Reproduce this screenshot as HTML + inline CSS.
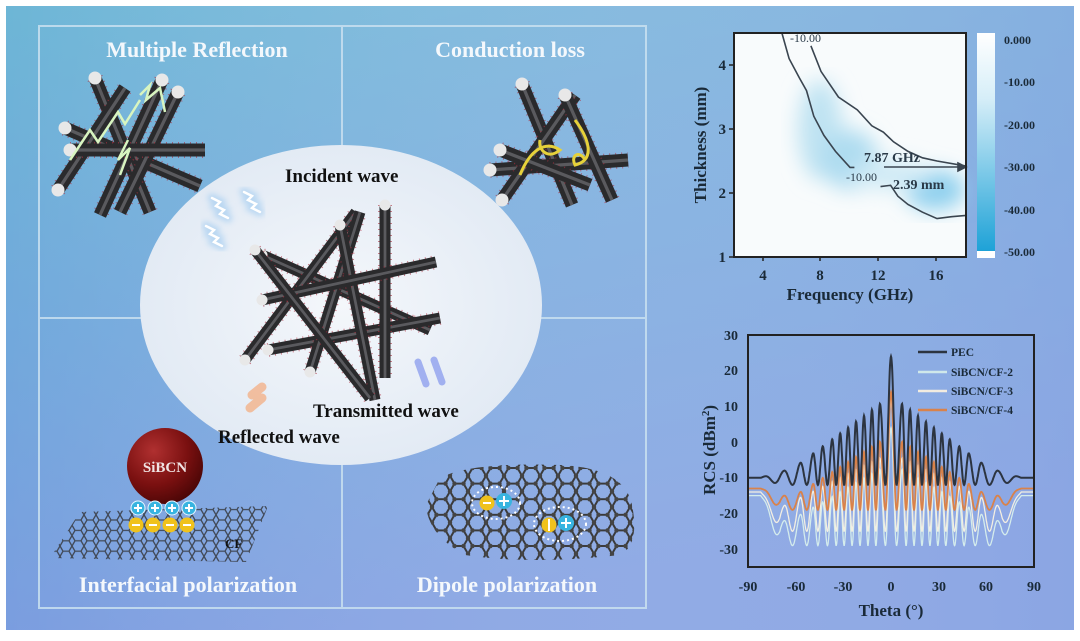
<!DOCTYPE html>
<html><head><meta charset="utf-8">
<style>
html,body{margin:0;padding:0;background:#fff;}
body{width:1080px;height:636px;overflow:hidden;}
svg text{font-family:"Liberation Serif",serif;font-weight:bold;}
</style></head>
<body>
<svg id="s" width="1080" height="636" viewBox="0 0 1080 636" xmlns="http://www.w3.org/2000/svg">
<defs>
<linearGradient id="bg" x1="0" y1="0" x2="0.3" y2="1">
<stop offset="0" stop-color="#6db6d6"/><stop offset="0.5" stop-color="#72a8dc"/><stop offset="1" stop-color="#7c9be0"/>
</linearGradient>
<linearGradient id="bg2" x1="0" y1="0" x2="1" y2="0">
<stop offset="0" stop-color="#fff" stop-opacity="0"/><stop offset="1" stop-color="#9ab0e6" stop-opacity="0.5"/>
</linearGradient>
<radialGradient id="ell" cx="0.5" cy="0.5" r="0.6">
<stop offset="0" stop-color="#f4f7fb"/><stop offset="1" stop-color="#dfe8f3"/>
</radialGradient>
<radialGradient id="sph" cx="0.35" cy="0.3" r="0.75">
<stop offset="0" stop-color="#b03030"/><stop offset="0.6" stop-color="#7a1010"/><stop offset="1" stop-color="#4a0606"/>
</radialGradient>
<linearGradient id="cb" x1="0" y1="0" x2="0" y2="1">
<stop offset="0" stop-color="#ffffff"/><stop offset="0.3" stop-color="#d6eef8"/><stop offset="1" stop-color="#1ea2d7"/>
</linearGradient>
<pattern id="hex" width="12" height="10.4" patternUnits="userSpaceOnUse">
<path d="M0 5.2 L3 0 L9 0 L12 5.2 L9 10.4 L3 10.4 Z" fill="none" stroke="#3a3f48" stroke-width="1.3"/>
</pattern>
<pattern id="hex2" width="18" height="15.6" patternUnits="userSpaceOnUse">
<path d="M0 7.8 L4.5 0 L13.5 0 L18 7.8 L13.5 15.6 L4.5 15.6 Z" fill="none" stroke="#3a3a3a" stroke-width="2"/>
<circle cx="4.5" cy="0" r="2.2" fill="#444"/><circle cx="13.5" cy="0" r="2.2" fill="#444"/><circle cx="0" cy="7.8" r="2.2" fill="#444"/><circle cx="18" cy="7.8" r="2.2" fill="#444"/><circle cx="4.5" cy="15.6" r="2.2" fill="#444"/><circle cx="13.5" cy="15.6" r="2.2" fill="#444"/>
</pattern>
<filter id="blur"><feGaussianBlur stdDeviation="10"/></filter>
<filter id="blur2"><feGaussianBlur stdDeviation="3"/></filter>
</defs>
<rect x="0" y="0" width="1080" height="636" fill="#fff"/>
<rect x="6" y="6" width="1068" height="624" fill="url(#bg)"/>
<rect x="6" y="6" width="1068" height="624" fill="url(#bg2)"/>

<g stroke="#c9e0f0" stroke-width="2" fill="none" opacity="0.85">
<rect x="39" y="26" width="607" height="582"/>
<line x1="342" y1="26" x2="342" y2="608"/>
<line x1="39" y1="318" x2="646" y2="318"/>
</g>

<g fill="#f4f8fc" font-size="22">
<text x="197" y="57" text-anchor="middle">Multiple Reflection</text>
<text x="510" y="57" text-anchor="middle">Conduction loss</text>
<text x="188" y="592" text-anchor="middle">Interfacial polarization</text>
<text x="507" y="592" text-anchor="middle">Dipole polarization</text>
</g>

<g id="fibers" stroke-linecap="butt"></g>

<ellipse cx="341" cy="305" rx="201" ry="160" fill="url(#ell)"/>
<g id="fibers2"></g>

<g fill="none" stroke-linecap="round">
<g stroke="#9cc9f0" stroke-width="9" opacity="0.6" filter="url(#blur2)">
<path d="M212 198 l8 4 l-4 4 l8 4 l-4 4 l8 4"/><path d="M244 192 l8 4 l-4 4 l8 4 l-4 4 l8 4"/><path d="M206 226 l8 4 l-4 4 l8 4 l-4 4 l8 4"/>
</g>
<g stroke="#fff" stroke-width="2.5">
<path d="M212 198 l8 4 l-4 4 l8 4 l-4 4 l8 4"/><path d="M244 192 l8 4 l-4 4 l8 4 l-4 4 l8 4"/><path d="M206 226 l8 4 l-4 4 l8 4 l-4 4 l8 4"/>
</g>
<g stroke="#f3b28a" stroke-width="9" opacity="0.8"><path d="M250 408 l12 -10 M252 395 l10 -8"/></g>
<g stroke="#8fa0ee" stroke-width="7" opacity="0.8"><path d="M418 362 l8 22 M434 360 l8 22"/></g>
</g>

<g fill="#111" font-size="19">
<text x="285" y="182">Incident wave</text>
<text x="313" y="417">Transmitted wave</text>
<text x="218" y="443">Reflected wave</text>
</g>

<g fill="none" stroke="#d8f5c0" stroke-width="2.5" stroke-linejoin="miter">
<path d="M70 160 L90 130 L98 142 L118 112 L125 124 L140 100"/>
<path d="M140 95 L150 85 L146 100 L160 88 L165 112"/>
<path d="M120 175 L130 148 L118 160 L128 140"/>
</g>
<g fill="none" stroke="#e6d13a" stroke-width="3">
<path d="M520 175 C530 150 545 140 560 150 C548 160 538 150 540 140"/>
<path d="M575 120 C590 140 595 160 575 165 C570 155 580 150 585 160"/>
</g>

<polygon points="80,512 268,506 246,562 50,558" fill="url(#hex)" opacity="0.9"/>
<circle cx="165" cy="466" r="38" fill="url(#sph)"/>
<text x="165" y="472" text-anchor="middle" fill="#f0e4e4" font-size="15">SiBCN</text>
<g fill="#38b4e0" stroke="#e8f6ff" stroke-width="1"><circle cx="138" cy="508" r="7"/><circle cx="155" cy="508" r="7"/><circle cx="172" cy="508" r="7"/><circle cx="189" cy="508" r="7"/></g>
<g stroke="#fff" stroke-width="2"><path d="M134 508h8M138 504v8M151 508h8M155 504v8M168 508h8M172 504v8M185 508h8M189 504v8"/></g>
<g fill="#f0c21c"><circle cx="136" cy="525" r="7.5"/><circle cx="153" cy="525" r="7.5"/><circle cx="170" cy="525" r="7.5"/><circle cx="187" cy="525" r="7.5"/></g>
<g stroke="#fff" stroke-width="2"><path d="M132 525h8M149 525h8M166 525h8M183 525h8"/></g>
<text x="225" y="548" fill="#111" font-size="13">CF</text>

<path d="M440 478 Q470 462 560 465 Q625 468 632 505 Q640 545 620 555 Q530 565 465 555 Q428 535 426 505 Z" fill="url(#hex2)"/>
<g fill="none" stroke="#fff" stroke-width="2" stroke-dasharray="2 3">
<ellipse cx="496" cy="503" rx="24" ry="16"/><ellipse cx="560" cy="524" rx="26" ry="17"/>
</g>
<circle cx="487" cy="503" r="7.5" fill="#f0c21c"/><circle cx="504" cy="501" r="8" fill="#38b4e0"/>
<circle cx="549" cy="525" r="7.5" fill="#f0c21c"/><circle cx="566" cy="523" r="8" fill="#38b4e0"/>
<g stroke="#fff" stroke-width="2"><path d="M483 503h8M499 501h10M504 496v10M561 523h10M566 518v10M549 519v12"/></g>

<g id="c1">
<rect x="734" y="33" width="232" height="224" fill="#f8fbfc"/>
<g filter="url(#blur)">
<ellipse cx="820" cy="130" rx="22" ry="50" fill="#bfe3f2"/>
<ellipse cx="850" cy="160" rx="28" ry="30" fill="#aedcf0"/>
<ellipse cx="935" cy="190" rx="30" ry="20" fill="#8fd0ee"/>
<ellipse cx="890" cy="175" rx="40" ry="15" fill="#cfeaf5"/>
</g>
<g fill="none" stroke="#3a4550" stroke-width="1.6">
<path id="ct1"/><path id="ct2"/><path id="ct3"/>
<line x1="884" y1="167" x2="960" y2="167"/>
<path d="M958 163 L966 167 L958 171 Z" fill="#3a4550"/>
</g>
<rect x="734" y="33" width="232" height="224" fill="none" stroke="#222" stroke-width="2"/>
<g fill="#2a3a48" font-size="12"><text x="790" y="42" style="font-weight:normal">-10.00</text><text x="846" y="181" style="font-weight:normal">-10.00</text></g>
<g fill="#2a3a48" font-size="14"><text x="864" y="162">7.87 GHz</text><text x="893" y="189">2.39 mm</text></g>
<rect x="977" y="33" width="18" height="218" fill="url(#cb)"/>
<rect x="977" y="251" width="18" height="7" fill="#fff"/>
<g fill="#1a2a38" font-size="12"><text x="1004" y="44">0.000</text><text x="1004" y="86">-10.00</text><text x="1004" y="129">-20.00</text><text x="1004" y="171">-30.00</text><text x="1004" y="214">-40.00</text><text x="1004" y="256">-50.00</text></g>
<g fill="#1a2a38" font-size="15"><text x="726" y="70" text-anchor="end">4</text><text x="726" y="134" text-anchor="end">3</text><text x="726" y="198" text-anchor="end">2</text><text x="726" y="262" text-anchor="end">1</text>
<text x="763" y="280" text-anchor="middle">4</text><text x="820" y="280" text-anchor="middle">8</text><text x="878" y="280" text-anchor="middle">12</text><text x="936" y="280" text-anchor="middle">16</text></g>
<text x="850" y="300" text-anchor="middle" fill="#1a2a38" font-size="17">Frequency (GHz)</text>
<text transform="translate(706 145) rotate(-90)" text-anchor="middle" fill="#1a2a38" font-size="17">Thickness (mm)</text>
<g stroke="#222" stroke-width="1.5"><path d="M734 65h-5M734 129h-5M734 193h-5M734 257h-5M763 257v4M820 257v4M878 257v4M936 257v4"/></g>
</g>

<g id="c2">
<g id="curves" fill="none" stroke-width="1.6"></g>
<rect x="748" y="335" width="286" height="232" fill="none" stroke="#222" stroke-width="2"/>
<g fill="#1a2a38" font-size="14"><text x="738" y="340" text-anchor="end">30</text><text x="738" y="375" text-anchor="end">20</text><text x="738" y="411" text-anchor="end">10</text><text x="738" y="447" text-anchor="end">0</text><text x="738" y="482" text-anchor="end">-10</text><text x="738" y="518" text-anchor="end">-20</text><text x="738" y="554" text-anchor="end">-30</text>
<text x="748" y="591" text-anchor="middle">-90</text><text x="796" y="591" text-anchor="middle">-60</text><text x="843" y="591" text-anchor="middle">-30</text><text x="891" y="591" text-anchor="middle">0</text><text x="939" y="591" text-anchor="middle">30</text><text x="986" y="591" text-anchor="middle">60</text><text x="1034" y="591" text-anchor="middle">90</text></g>
<text x="891" y="616" text-anchor="middle" fill="#1a2a38" font-size="17">Theta (°)</text>
<text transform="translate(715 450) rotate(-90)" text-anchor="middle" fill="#1a2a38" font-size="17">RCS (dBm<tspan dy="-6" font-size="11">2</tspan><tspan dy="6">)</tspan></text>
<g stroke-width="2.5"><line x1="918" y1="352" x2="947" y2="352" stroke="#2c3440"/><line x1="918" y1="372" x2="947" y2="372" stroke="#cfe8ea"/><line x1="918" y1="391" x2="947" y2="391" stroke="#f2ece0"/><line x1="918" y1="410" x2="947" y2="410" stroke="#d9824a"/></g>
<g fill="#1a2a38" font-size="11.5"><text x="951" y="356">PEC</text><text x="951" y="376">SiBCN/CF-2</text><text x="951" y="395">SiBCN/CF-3</text><text x="951" y="414">SiBCN/CF-4</text></g>
</g>
</svg>
<script>
var NS="http://www.w3.org/2000/svg";
function fiber(g,x1,y1,x2,y2,w){
  var l=document.createElementNS(NS,"line");
  l.setAttribute("x1",x1);l.setAttribute("y1",y1);l.setAttribute("x2",x2);l.setAttribute("y2",y2);
  l.setAttribute("stroke","#2a2a2c");l.setAttribute("stroke-width",w);
  var l3=l.cloneNode();l3.setAttribute("stroke","#b03040");l3.setAttribute("stroke-width",w+3);l3.setAttribute("stroke-dasharray","1 5");l3.setAttribute("opacity","0.6");g.appendChild(l3);
  g.appendChild(l);
  var l2=l.cloneNode();l2.setAttribute("stroke","#5a5a5e");l2.setAttribute("stroke-width",w*0.25);g.appendChild(l2);
  var c=document.createElementNS(NS,"circle");c.setAttribute("cx",x1);c.setAttribute("cy",y1);c.setAttribute("r",w/2);c.setAttribute("fill","#e8e8e8");g.appendChild(c);
}
var g=document.getElementById("fibers");
[[65,128,200,186],[95,78,150,212],[178,92,120,212],[58,190,125,88],[162,80,100,215],[70,150,205,150]].forEach(function(a){fiber(g,a[0],a[1],a[2],a[3],13)});
[[522,84,572,205],[490,170,628,160],[502,200,575,95],[565,95,612,200],[500,150,590,185]].forEach(function(a){fiber(g,a[0],a[1],a[2],a[3],13)});
var g2=document.getElementById("fibers2");
[[262,255,430,330],[245,360,356,212],[268,350,440,318],[310,372,360,212],[385,205,385,378],[340,225,375,400],[262,300,436,262],[255,250,370,398]].forEach(function(a){fiber(g2,a[0],a[1],a[2],a[3],11)});

function fx(f){return 734+(f-2)*14.5} function fy(t){return 257-(t-1)*64}
function pth(pts){return "M"+pts.map(function(p){return fx(p[0]).toFixed(1)+" "+fy(p[1]).toFixed(1)}).join(" L")}
document.getElementById("ct1").setAttribute("d",pth([[5.3,4.5],[5.8,4.1],[6.5,3.8],[7,3.6],[7.5,3.2],[8.2,2.9],[9,2.65],[10,2.4],[10.3,2.4]]));
document.getElementById("ct2").setAttribute("d",pth([[7.3,4.3],[8,3.9],[9.2,3.5],[10.5,3.3],[11.5,3.05],[12.3,2.95],[13,2.8],[14,2.65],[15,2.55],[16,2.5],[18,2.42]]));
document.getElementById("ct3").setAttribute("d",pth([[12.1,2.1],[12.8,2.12],[13.3,1.95],[14,1.82],[15,1.7],[16,1.6],[17,1.63],[18,1.65]]));

function X(t){return 748+(t+90)*286/180} function Y(v){return 335+(30-v)*232/65}
var PK=[0,7,12,17,22,27,32,37,43,49,57,67,80,95];
function phase(a){for(var k=0;k<PK.length-1;k++){if(a<=PK[k+1])return k+(a-PK[k])/(PK[k+1]-PK[k]);}return PK.length;}
function curve(peak,s0,slope,floor,trough,farv,color,w){
  var d="";
  for(var t=-90;t<=90;t+=0.2){
    var a=Math.abs(t),v;
    var ph=phase(a);
    var T=ph<0.5?peak:Math.max(floor,s0-slope*a);
    var c=Math.cos(Math.PI*ph);c=c*c;
    v=trough+(T-trough)*c;
    if(a>70){var k=Math.min(1,(a-70)/12);v=v*(1-k)+farv*k;}
    d+=(d?"L":"M")+X(t).toFixed(1)+" "+Y(v).toFixed(1);
  }
  var p=document.createElementNS(NS,"path");p.setAttribute("d",d);p.setAttribute("stroke",color);p.setAttribute("stroke-width",w);
  document.getElementById("curves").appendChild(p);
}
curve(4,-6,0.25,-22,-29,-15,"#d4ecec",1.3);
curve(12,-3,0.22,-20,-25,-14,"#f3eee2",1.3);
curve(14,2,0.28,-15,-19,-13,"#d9824a",1.8);
curve(24,13,0.33,-8,-12,-10,"#2c3440",2);
</script>
</body></html>
